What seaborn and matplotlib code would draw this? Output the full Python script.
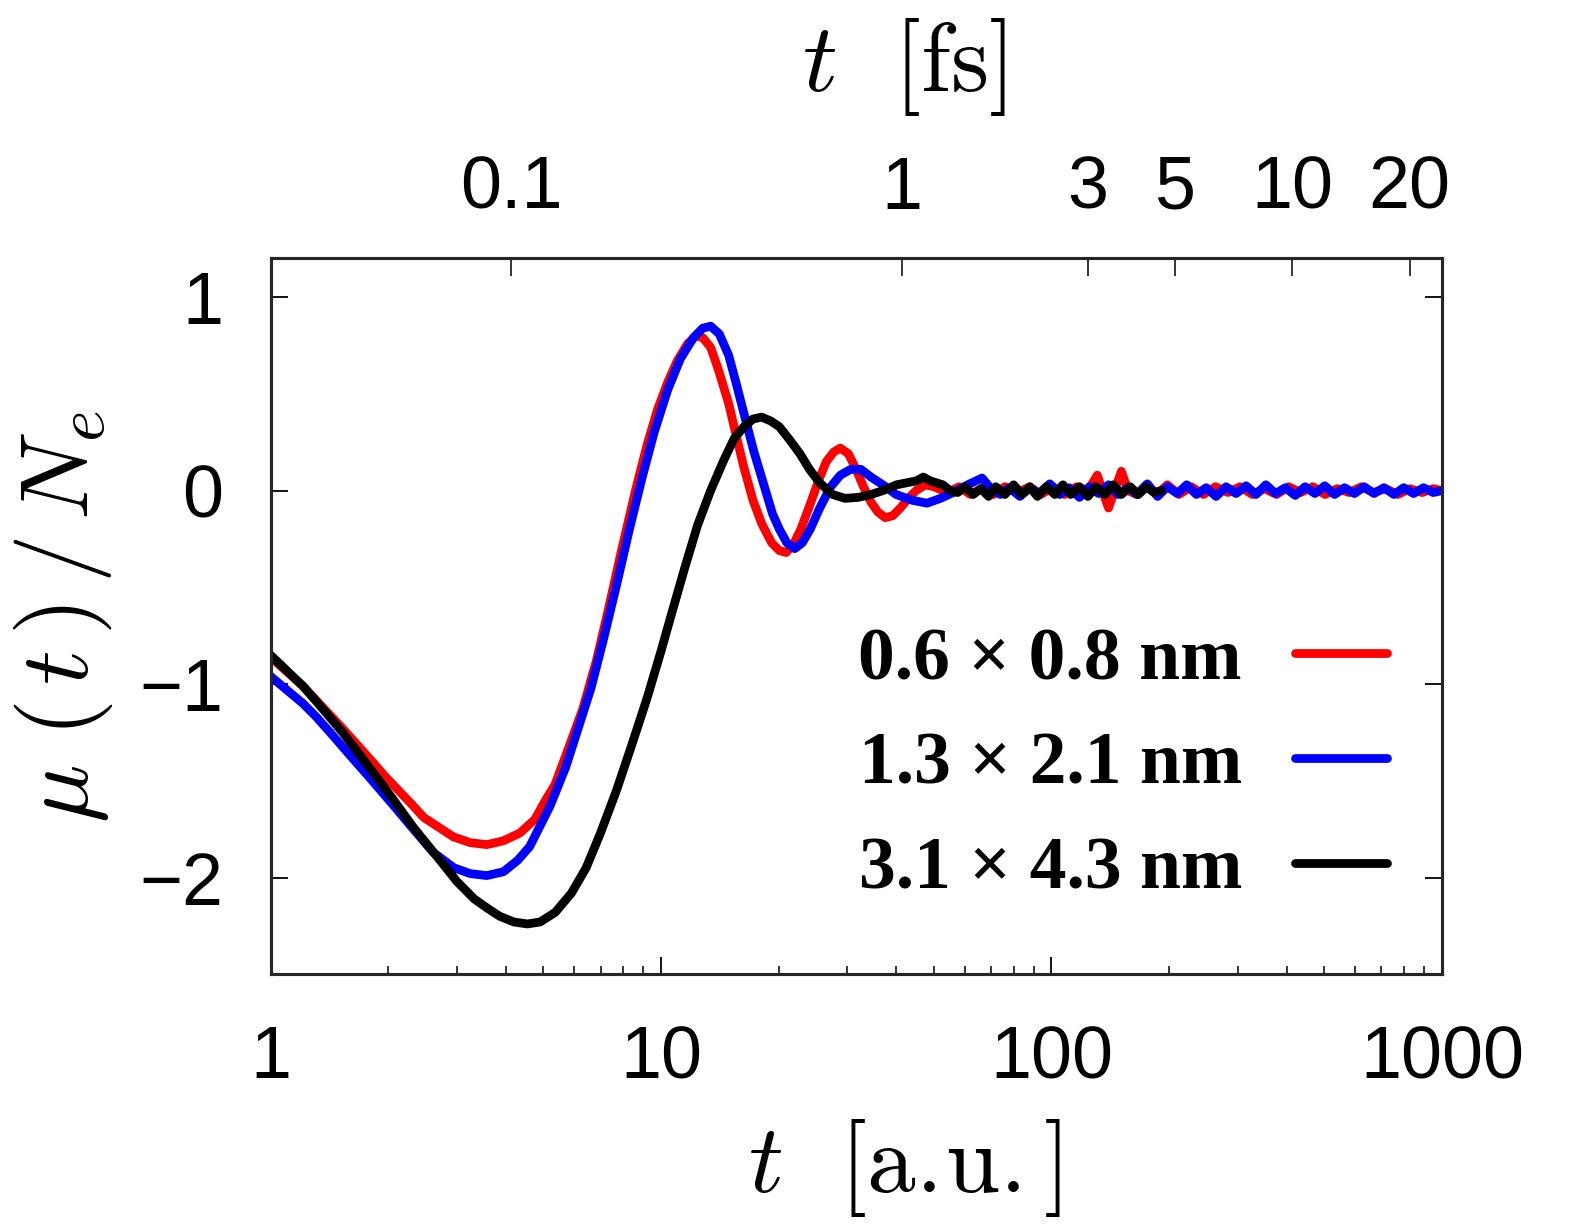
import numpy as np
import pandas as pd
import matplotlib
matplotlib.use("Agg")
import matplotlib.pyplot as plt
import seaborn as sns
from matplotlib.ticker import FixedLocator, NullLocator, LogLocator, NullFormatter

# ---------------- data ----------------
AU_PER_FS = 41.341

red_t = [1.0, 1.21, 1.39, 1.53, 1.82, 1.95, 2.32, 2.47, 2.94, 3.25, 3.58, 3.95, 4.35, 4.75,
         5.06, 5.35, 5.87, 6.3, 6.83, 7.3, 7.94, 8.6, 9.22, 9.8, 10.4, 11.0, 11.7, 12.3, 12.8,
         13.4, 14.0, 14.9, 15.6, 16.3, 17.2, 18.1, 19.2, 20.1, 20.9, 21.8, 22.8, 24.0, 25.3,
         26.5, 27.7, 28.8, 30.2, 31.6, 33.0, 34.5, 35.9, 37.5, 39.2, 41.0, 43.0, 45.0, 47.5,
         50, 54, 58, 62, 66, 71, 76, 82, 88, 94, 101, 108, 116, 124, 131, 135, 140,
         145, 151, 157, 165, 175, 186, 198, 212, 228, 245, 263, 283, 304, 327, 351, 377,
         405, 435, 467, 502, 539, 579, 622, 668, 718, 771, 828, 890, 950, 1000]
red_y = [-0.86, -1.01, -1.14, -1.23, -1.40, -1.47, -1.63, -1.69, -1.79, -1.82, -1.83, -1.81,
         -1.77, -1.70, -1.60, -1.52, -1.30, -1.13, -0.88, -0.63, -0.30, 0.00, 0.24, 0.42,
         0.56, 0.67, 0.76, 0.80, 0.79, 0.74, 0.63, 0.45, 0.28, 0.12, -0.05, -0.17, -0.27,
         -0.31, -0.32, -0.28, -0.20, -0.08, 0.05, 0.15, 0.20, 0.22, 0.19, 0.11, 0.02, -0.06,
         -0.11, -0.14, -0.13, -0.09, -0.04, 0.00, 0.03,
         0.02, -0.01, 0.02, -0.02, 0.01, -0.02, 0.02, -0.01, 0.02,
         -0.02, 0.02, -0.02, 0.02, 0.00, 0.08, 0.00, -0.09, 0.00, 0.10, 0.00, -0.02, 0.03,
         -0.02, 0.03, -0.02, 0.02, -0.02, 0.02, -0.01, 0.02, -0.02, 0.01, -0.02, 0.02, -0.01,
         0.02, -0.02, 0.01, -0.01, 0.02, -0.01, 0.01, -0.02, 0.01, -0.01, 0.01, 0.00]

blue_t = [1.0, 1.21, 1.31, 1.45, 1.6, 1.77, 2.07, 2.3, 2.61, 2.95, 3.25, 3.58, 3.95, 4.3,
          4.61, 4.91, 5.2, 5.7, 6.2, 6.62, 7.1, 7.69, 8.3, 8.94, 9.6, 10.4, 11.2, 12.1, 12.8,
          13.4, 14.1, 14.9, 15.6, 16.3, 17.3, 18.4, 19.3, 20.1, 21.0, 22.0, 23.0, 24.1, 25.5,
          27.2, 28.8, 30.6, 32.5, 34.5, 37, 40, 44, 48, 52, 56, 61, 66.4,
          70, 74, 78, 83, 88, 93, 99, 105, 111, 118, 125, 132, 140, 148, 157, 166, 176,
          187, 198, 210, 222, 235, 249, 264, 280, 297, 315, 334, 354, 375, 397, 421, 446, 473,
          501, 531, 563, 597, 632, 670, 710, 753, 798, 846, 897, 950, 1000]
blue_y = [-0.96, -1.10, -1.17, -1.27, -1.37, -1.47, -1.63, -1.74, -1.87, -1.95, -1.98, -1.99,
          -1.97, -1.91, -1.84, -1.73, -1.63, -1.43, -1.20, -1.02, -0.78, -0.49, -0.20, 0.065,
          0.30, 0.52, 0.68, 0.79, 0.84, 0.85, 0.81, 0.70, 0.55, 0.40, 0.20, 0.02, -0.12,
          -0.20, -0.27, -0.30, -0.27, -0.20, -0.09, 0.02, 0.08, 0.11, 0.11, 0.07, 0.03, -0.02,
          -0.05, -0.065, -0.04, -0.01, 0.03, 0.065,
          0.01, -0.02, 0.015, -0.03, 0.015, -0.015, 0.035,
          -0.02, 0.015, -0.035, 0.02, -0.015, 0.03, -0.02, 0.015, -0.02, 0.035, -0.03, 0.02,
          -0.015, 0.03, -0.02, 0.015, -0.03, 0.02, -0.015, 0.025, -0.02, 0.03, -0.015, 0.015,
          -0.025, 0.02, -0.015, 0.025, -0.02, 0.015, -0.015, 0.02, -0.015, 0.015, -0.02, 0.015,
          -0.015, 0.015, -0.01, 0.0]

black_t = [1.0, 1.21, 1.35, 1.53, 1.82, 2.05, 2.32, 2.69, 3.0, 3.32, 3.6, 3.86, 4.2, 4.55,
           4.9, 5.36, 5.9, 6.43, 7.0, 7.69, 8.4, 9.22, 10.0, 10.7, 11.5, 12.4, 13.4, 14.5,
           15.4, 16.3, 17.2, 18.1, 19.1, 20.1, 21.4, 22.7, 24.0, 25.5, 27.5, 29.6, 32, 34.5,
           37, 40.1, 45, 47, 49, 52.7, 55, 57.5,
           60, 63, 66, 69, 72, 76, 80, 84, 88, 92, 97, 102, 107, 112, 118, 124, 130, 137, 144,
           151, 159, 167, 175, 183, 191]
black_y = [-0.85, -1.01, -1.12, -1.25, -1.45, -1.59, -1.74, -1.90, -2.02, -2.11, -2.16, -2.20,
           -2.23, -2.24, -2.23, -2.18, -2.08, -1.95, -1.77, -1.55, -1.32, -1.07, -0.83, -0.62,
           -0.40, -0.18, 0.0, 0.16, 0.27, 0.33, 0.37, 0.38, 0.36, 0.33, 0.26, 0.19, 0.11, 0.04,
           -0.02, -0.04, -0.035, -0.02, 0.0, 0.03, 0.05, 0.07, 0.05, 0.03, 0.0, -0.01,
           0.02, -0.02, 0.01, -0.03, 0.02, -0.02, 0.03, -0.02, 0.02,
           -0.03, 0.02, -0.02, 0.03, -0.02, 0.02, -0.03, 0.02, -0.02, 0.03, -0.02, 0.02, -0.02,
           0.02, -0.01, 0.0]

series_labels = ["0.6 \u00d7 0.8 nm", "1.3 \u00d7 2.1 nm", "3.1 \u00d7 4.3 nm"]
series_colors = ["#ff0000", "#0000ff", "#000000"]

bottom_ticks = [1, 10, 100, 1000]
bottom_ticklabels = ["1", "10", "100", "1000"]
top_ticks_fs = [0.1, 1, 3, 5, 10, 20]
top_ticklabels = ["0.1", "1", "3", "5", "10", "20"]
y_ticks = [-2, -1, 0, 1]

# ---------------- style ----------------
sns.set_style("white")
plt.rcParams["font.family"] = ["Liberation Sans", "DejaVu Sans"]
plt.rcParams["mathtext.fontset"] = "cm"
plt.rcParams["axes.unicode_minus"] = True
plt.rcParams["text.color"] = "black"

fig = plt.figure(figsize=(15.83, 12.25), dpi=100)
ax = fig.add_axes([0.1709, 0.2047, 0.7400, 0.5843])

frames = []
for t, y, lab in zip([red_t, blue_t, black_t], [red_y, blue_y, black_y], series_labels):
    frames.append(pd.DataFrame({"t": t, "mu": y, "size": lab}))
df = pd.concat(frames, ignore_index=True)

LW = 6.3
for lab, col in zip(series_labels, series_colors):
    sub = df[df["size"] == lab]
    sns.lineplot(data=sub, x="t", y="mu", ax=ax, color=col, lw=LW,
                 estimator=None, sort=False, label=lab, legend=False)

ax.set_xscale("log")
ax.set_xlim(1, 1000)
ax.set_ylim(-2.5, 1.2)

for sp in ax.spines.values():
    sp.set_linewidth(2.2)
    sp.set_color("black")

ax.xaxis.set_major_locator(FixedLocator(bottom_ticks))
ax.set_xticklabels(bottom_ticklabels)
ax.xaxis.set_minor_locator(LogLocator(base=10, subs=np.arange(2, 10)))
ax.xaxis.set_minor_formatter(NullFormatter())
ax.set_yticks(y_ticks)

ax.tick_params(axis="both", which="major", direction="in", length=12.5, width=1.3,
               labelsize=53, color="black", labelcolor="black")
ax.tick_params(axis="x", which="minor", direction="in", length=6, width=1.3)
ax.tick_params(axis="x", which="both", top=False, bottom=True, pad=36)
ax.tick_params(axis="y", which="both", left=True, right=True, pad=34)

ax.set_xlabel(r"$t\ \ [\mathrm{a.\!u.}]$", fontsize=70, color="black")
ax.xaxis.set_label_coords(0.541, -0.200)
ax.set_ylabel(r"$\mu\ (\,t\,)\,/\,N_e$", fontsize=70, color="black")
ax.yaxis.set_label_coords(-0.133, 0.50)

# top axis in femtoseconds
ax2 = ax.twiny()
ax2.set_xscale("log")
ax2.set_xlim(ax.get_xlim())
ax2.xaxis.set_major_locator(FixedLocator([v * AU_PER_FS for v in top_ticks_fs]))
ax2.set_xticklabels(top_ticklabels)
ax2.xaxis.set_minor_locator(NullLocator())
ax2.tick_params(axis="x", which="major", direction="in", length=13, width=1.3,
                labelsize=53, pad=25, top=True, bottom=False, labelcolor="black")
ax2.set_xlabel(r"$t\ \ [\mathrm{fs}]$", fontsize=70, color="black")
ax2.xaxis.set_label_coords(0.541, 1.234)
for sp in ax2.spines.values():
    sp.set_linewidth(2.2)

leg = ax.legend(loc="upper right", bbox_to_anchor=(0.953, 0.485), frameon=False,
                markerfirst=False, handlelength=1.25, handletextpad=0.72,
                labelspacing=0.5, borderpad=0, borderaxespad=0, labelcolor="black",
                prop={"family": "Liberation Serif", "weight": "bold", "size": 53})
for h in leg.get_lines():
    h.set_linewidth(LW)

fig.savefig("out.png", dpi=100, facecolor="white")
